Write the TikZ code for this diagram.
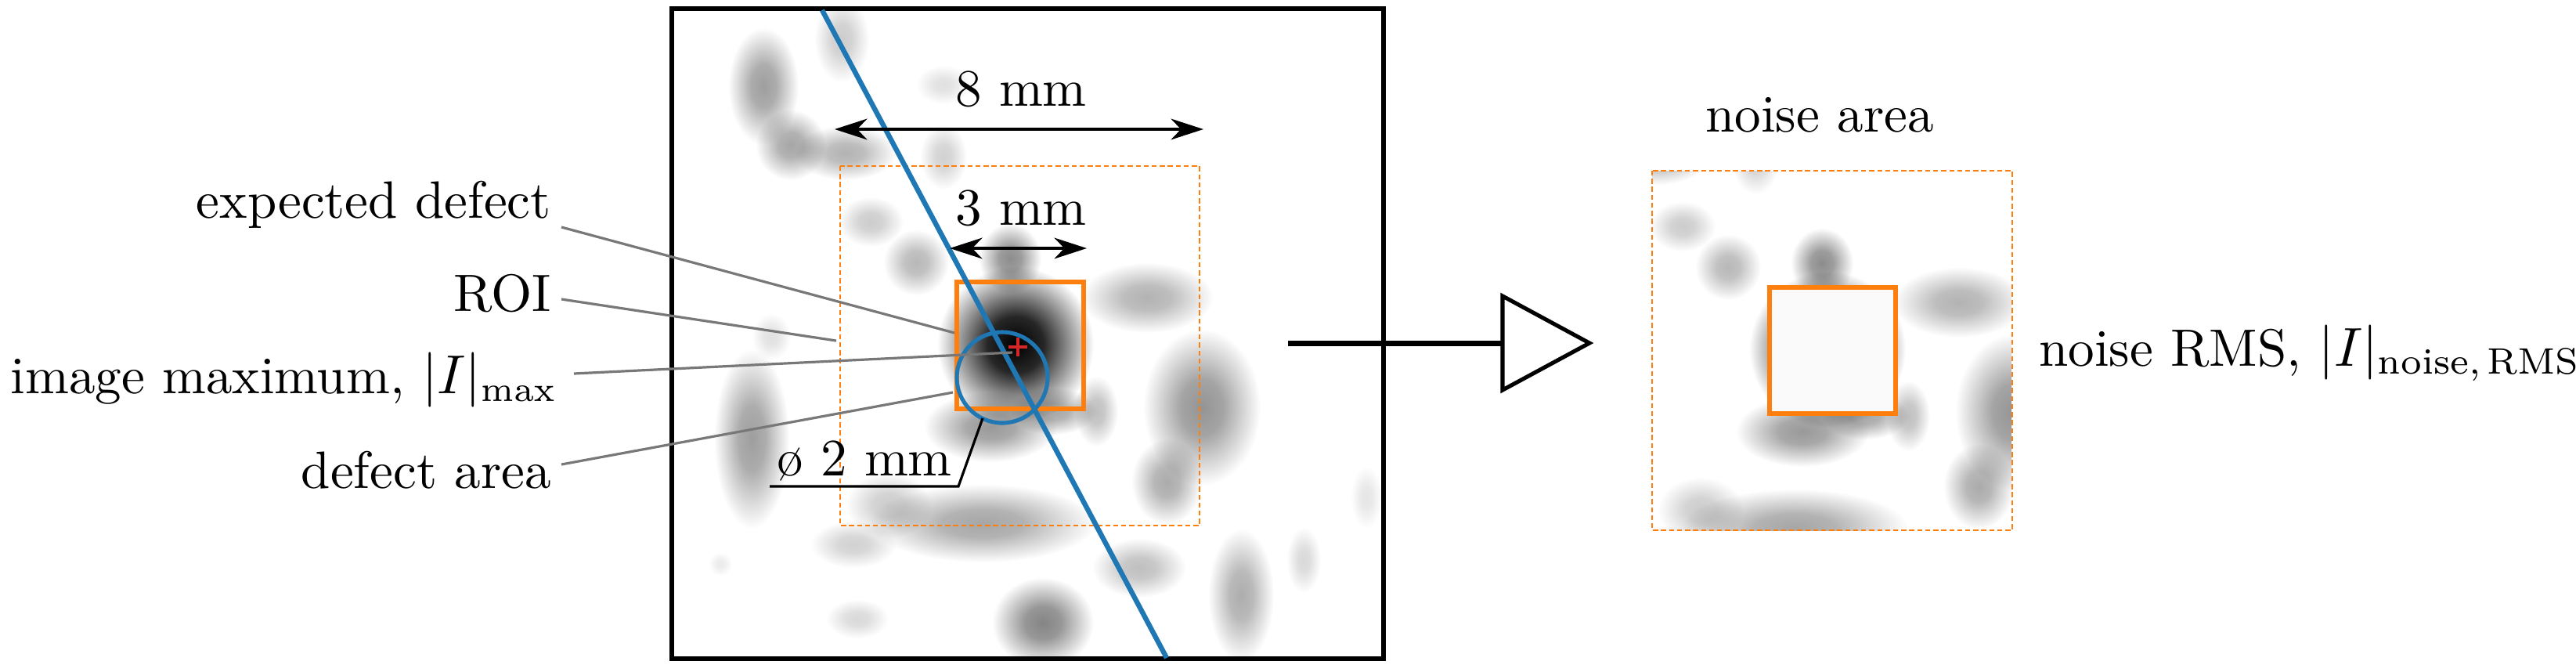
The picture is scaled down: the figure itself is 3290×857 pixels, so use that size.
\documentclass[tikz,border=0pt]{standalone}
\usepackage{amsmath}
\usepackage{xcolor}
\usepackage{tikz}
\usetikzlibrary{arrows.meta}
\definecolor{mplorange}{HTML}{FF7F0E}
\definecolor{mplblue}{HTML}{1F77B4}
\definecolor{mplred}{HTML}{D62728}
\definecolor{leadgray}{HTML}{787878}
\colorlet{blobcol}{black!40}
\pgfdeclareradialshading[blobcol]{softblob}{\pgfpoint{0bp}{0bp}}{color(0bp)=(blobcol); color(9bp)=(blobcol!85!white); color(25bp)=(white); color(50bp)=(white)}
\tikzstyle{imgframe}  = [draw=black, line width=0.8pt]
\tikzstyle{roibox}    = [draw=mplorange, line width=1pt]
\tikzstyle{noisebox}  = [draw=mplorange, line width=0.35pt, dash pattern=on 1pt off 0.6pt]
\tikzstyle{defectcirc}= [draw=mplblue, line width=0.8pt]
\tikzstyle{profile}   = [draw=mplblue, line width=1pt]
\tikzstyle{maxmark}   = [draw=mplred, line width=0.6pt]
\tikzstyle{dimarrow}  = [line width=0.5pt, {Stealth[length=6.5pt, width=4.2pt, inset=2pt]}-{Stealth[length=6.5pt, width=4.2pt, inset=2pt]}]
\tikzstyle{leader}    = [draw=leadgray, line width=0.5pt]
\tikzstyle{callout}   = [anchor=base east]
\tikzset{every node/.style={inner sep=0pt, font=\fontsize{10.5}{12.6}\selectfont}}

% grey blobs of the scan image (x/y/rx/ry/darkness), left panel pixels
\newcommand{\scanblobs}{%
  \foreach \bx/\by/\brx/\bry/\bk in {
      975/110/45/75/38, 1010/185/45/45/35, 1080/195/65/35/30, 1075/50/35/55/20,
      1205/108/35/25/12, 1205/200/30/42/18, 1112/283/42/32/20, 1170/335/42/42/28,
      1297/440/100/100/100, 1290/330/40/45/45, 1265/545/85/45/40, 1345/525/55/30/35,
      1465/380/85/45/30, 1535/520/75/100/42, 1490/615/45/55/33, 1400/525/28/45/25,
      1255/668/145/50/35, 1135/645/55/42/20, 960/560/48/115/38, 985/430/25/30/12,
      1332/795/65/58/48, 1455/725/60/38/25, 1585/760/42/85/32, 1665/715/22/42/15,
      1745/635/20/40/10, 1090/695/55/30/18, 1095/790/40/25/15, 920/720/15/15/8}
    {\colorlet{blobcol}{black!\bk}%
     \shade[shading=softblob] (\bx,\by) ellipse [x radius=\brx, y radius=\bry];}%
}

\begin{document}
\begin{tikzpicture}[x=0.055mm, y=-0.055mm]
    \useasboundingbox (0,0) rectangle (3290,857);

    % scan image, left panel
    \begin{scope}[blend mode=multiply]
        \clip (858,11) rectangle (1767,841);
        \scanblobs
    \end{scope}
    % same image, cut to the noise area
    \begin{scope}[shift={(1037,6)}, blend mode=multiply]
        \clip (1073,212) rectangle (1532,671);
        \scanblobs
    \end{scope}

    \draw [imgframe]   (858,11) rectangle (1767,841);
    \draw [noisebox]   (1073,212) rectangle (1532,671);
    \draw [roibox]     (1222,360) rectangle (1384,522);
    \draw [defectcirc] (1280,482) circle [radius=58];
    \draw [profile]    (1050,13) -- (1490,840);
    \draw [maxmark]    (1288,443) -- (1312,443) (1300,431) -- (1300,455);

    \coordinate (d8a) at (1066,165);  \coordinate (d8b) at (1537,165);
    \coordinate (d3a) at (1213,317);  \coordinate (d3b) at (1388,317);
    \draw [dimarrow] (d8a) -- (d8b);
    \draw [dimarrow] (d3a) -- (d3b);
    \node (eight) [anchor=base] at (1304,135) {8 mm};
    \node (three) [anchor=base] at (1304,287) {3 mm};

    % diameter label with its leader to the circle
    \node (diam) [anchor=base] at (1104,607) {ø 2 mm};
    \coordinate (diamfoot) at (983,621);
    \coordinate (diamknee) at (1224,621);
    \coordinate (diamtip)  at (1255,534);
    \draw [line width=0.5pt] (diamfoot) -- (diamknee) -- (diamtip);

    % labels on the left
    \node (expd)  [callout] at (705,278) {expected defect};
    \node (roi)   [callout] at (705,397) {ROI};
    \node (imax)  [callout] at (713,502) {image maximum, $|I|_{\max}$};
    \node (darea) [callout] at (705,623) {defect area};

    \coordinate (expdend)  at (1219,425);
    \coordinate (roiend)   at (1068,435);
    \coordinate (imaxend)  at (1293,450);
    \coordinate (dareaend) at (1217,501);
    \draw [leader] ([shift={(12,12)}]expd.base east)   -- (expdend);
    \draw [leader] ([shift={(12,-15)}]roi.base east)   -- (roiend);
    \draw [leader] ([shift={(20,-25)}]imax.base east)  -- (imaxend);
    \draw [leader] ([shift={(12,-30)}]darea.base east) -- (dareaend);

    % big arrow to the noise area
    \coordinate (arrstart) at (1645,438);
    \coordinate (arrbase)  at (1919,438);
    \draw [line width=1.1pt] (arrstart) -- (arrbase);
    \draw [line width=0.8pt, fill=white, line join=miter] (1919,378) -- (2030,438) -- (1919,498) -- cycle;

    % right panel
    \draw [noisebox] (2110,218) rectangle (2570,677);
    \draw [roibox, fill=black!2] (2260,367) rectangle (2421,528);
    \node (nsarea) [anchor=base] at (2324,168) {noise area};
    \node (nsrms)  [anchor=base west] at (2603,467) {noise RMS, $|I|_{\textrm{noise,\,RMS}}$};
\end{tikzpicture}
\end{document}
